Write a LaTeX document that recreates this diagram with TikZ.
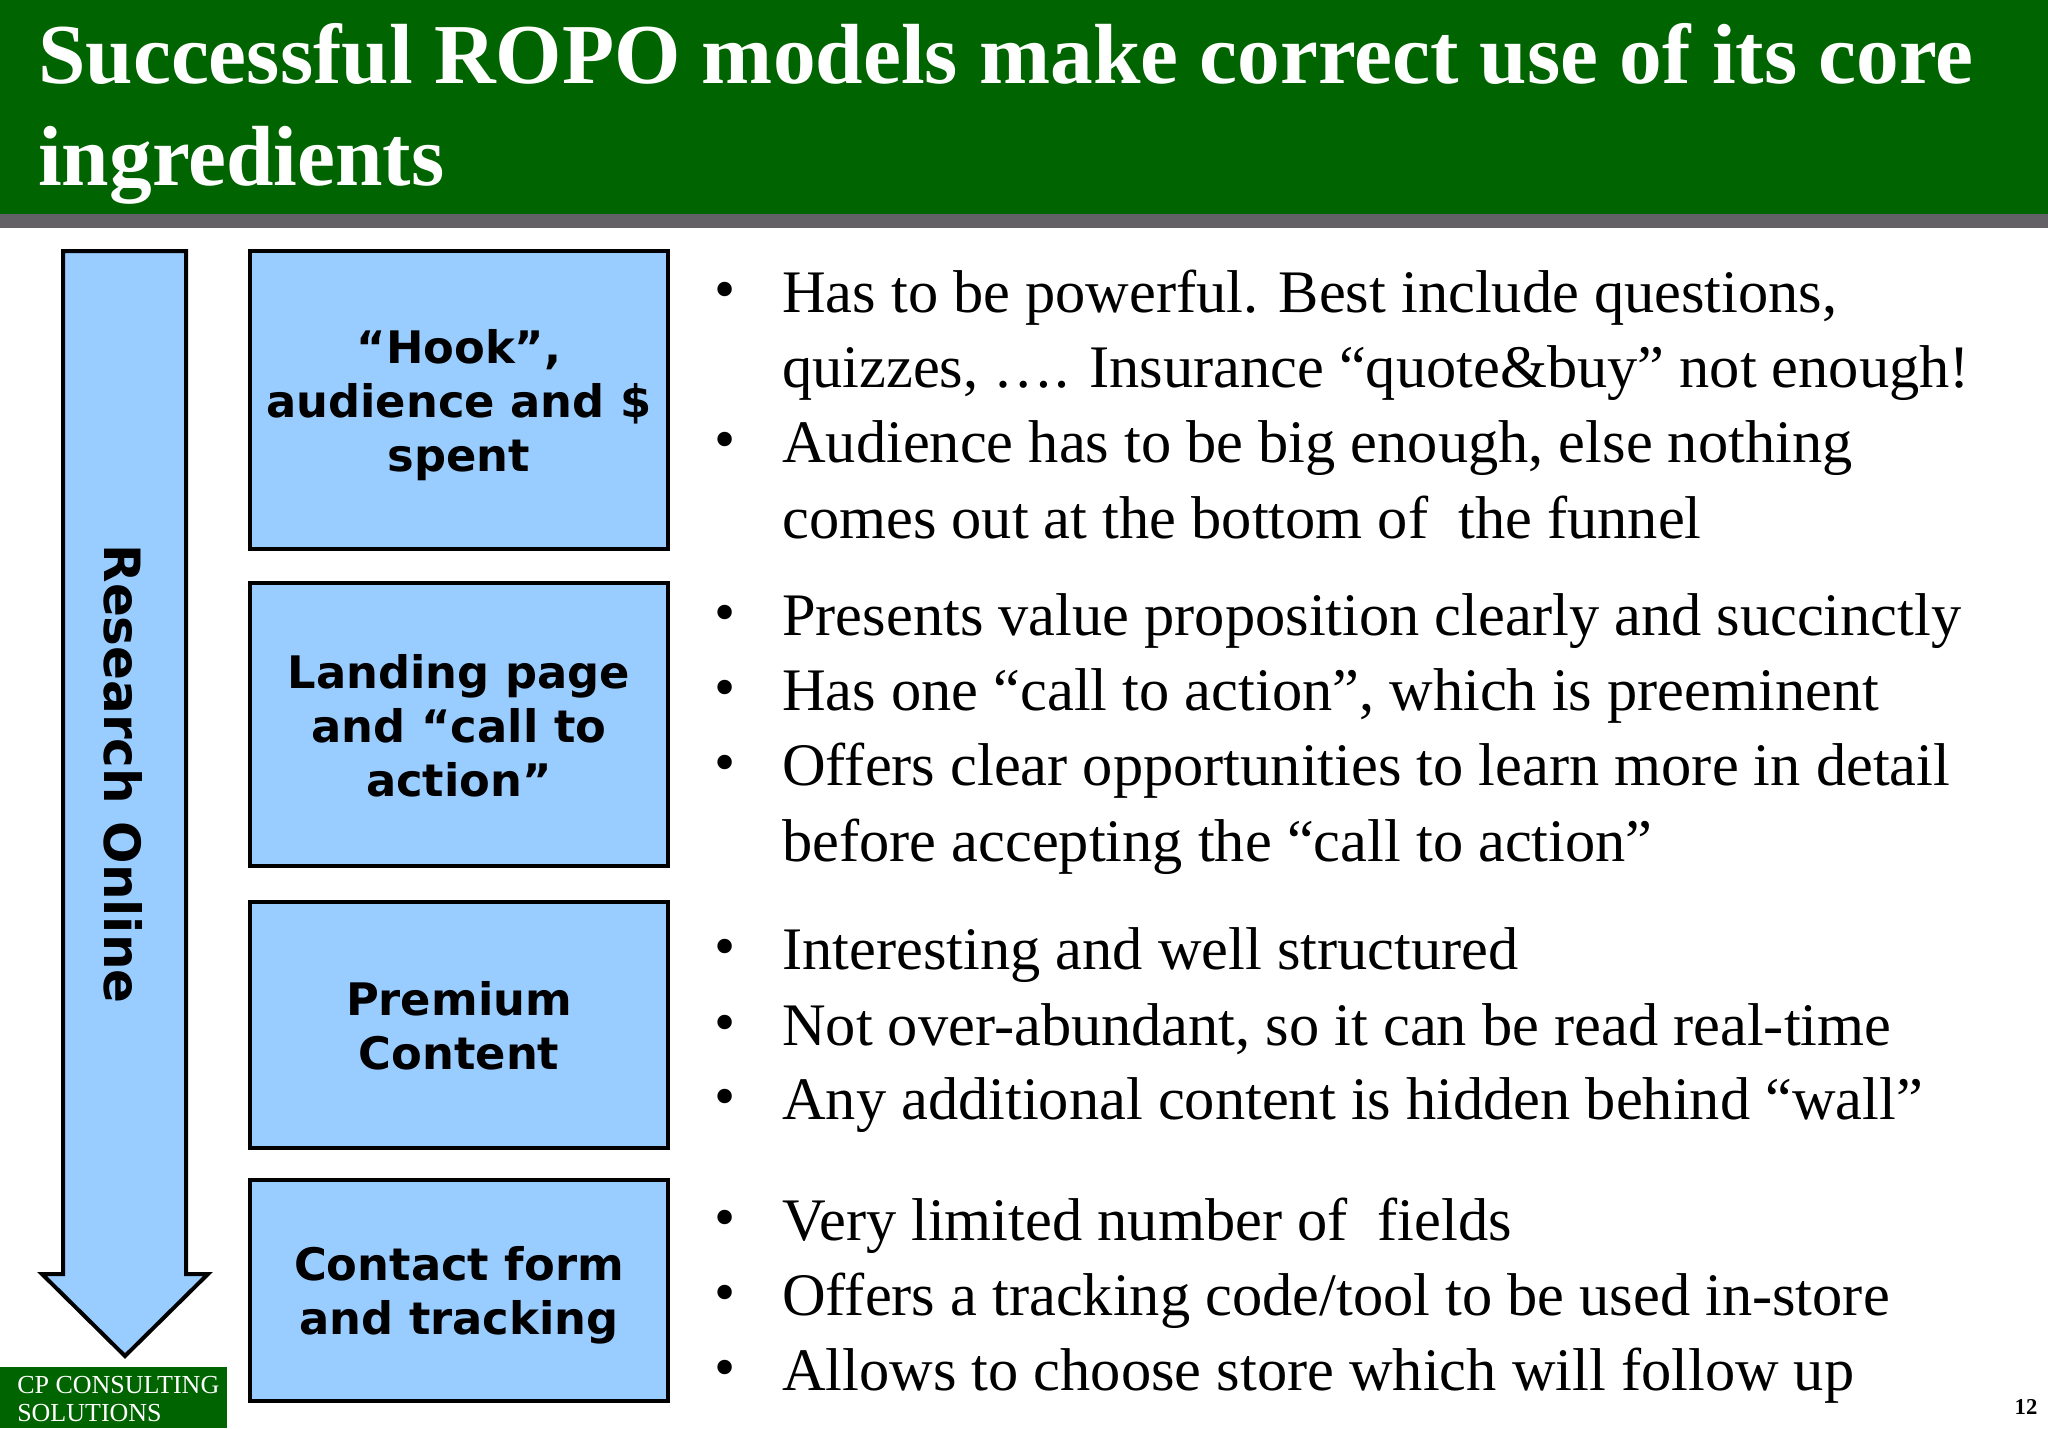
\documentclass[tikz,border=0pt]{standalone}
\usepackage{fontspec}
\setmainfont{Liberation Serif}
\newfontfamily\boxfont{DejaVu Sans}
\usepackage{xcolor}
\usetikzlibrary{positioning}
\definecolor{headgreen}{HTML}{006400}
\definecolor{headgrey}{HTML}{636066}
\definecolor{boxblue}{HTML}{99CCFF}
\newcommand{\bodysize}{\fontsize{45.3}{56}\selectfont}

\begin{document}
\begin{tikzpicture}[
    x=0.75pt, y=-0.75pt,
    stepbox/.style={draw, line width=3pt, fill=boxblue, align=center, inner sep=0pt, minimum width=313pt, font=\boxfont\fontsize{33.6}{40.6}\selectfont\bfseries},
    titleline/.style={anchor=base west, inner sep=0pt, text=white, font=\fontsize{64}{70}\selectfont\bfseries},
    bodyline/.style={anchor=base west, inner sep=0pt, font=\bodysize},
    bulletmark/.style={anchor=base, inner sep=0pt, yshift=2.25pt, font=\bodysize},
    footline/.style={anchor=base west, inner sep=0pt, text=white, font=\fontsize{19.5}{21}\selectfont}
]
    \useasboundingbox (0,0) rectangle (2048,1428);
    \fill[white] (0,0) rectangle (2048,1428);

    % header band
    \fill[headgreen] (0,0) rectangle (2048,214);
    \fill[headgrey] (0,214) rectangle (2048,228);
    \node[titleline] (title1) at (38,83) {Successful ROPO models make correct use of its core};
    \node[titleline] (title2) at (38,185) {ingredients};

    % long arrow on the left
    \draw[line width=3pt, fill=boxblue, miter limit=10] (63,251) -- (186,251) -- (186,1274) -- (208,1274) -- (125,1356) -- (42,1274) -- (63,1274) -- cycle;
    \node[rotate=-90, inner sep=0pt, font=\boxfont\fontsize{37.5}{40}\selectfont\bfseries] (research) at (123,774) {Research Online};

    % the four boxes
    \node[stepbox, minimum height=224pt] (hook) at (459,400) {\rule{0pt}{33pt}“Hook”,\\audience and \$\\spent};
    \node[stepbox, minimum height=212.5pt] (landing) at (459,724.5) {\rule{0pt}{27pt}Landing page\\and “call to\\action”};
    \node[stepbox, minimum height=184.5pt] (premium) at (459,1025) {\rule{0pt}{27pt}Premium\\Content};
    \node[stepbox, minimum height=166pt] (contact) at (459,1290.7) {\rule{0pt}{33pt}Contact form\\and tracking};

    % first group
    \node[bulletmark] (b1) at (725,312) {•};
    \node[bodyline] (t1) at (782,312) {Has to be powerful. Best include questions,};
    \node[bodyline] (t2) at (782,387) {quizzes, …. Insurance “quote\&buy” not enough!};
    \node[bulletmark] (b2) at (725,462) {•};
    \node[bodyline] (t3) at (782,462) {Audience has to be big enough, else nothing};
    \node[bodyline] (t4) at (782,538) {comes out at the bottom of\ \ the funnel};

    % second group
    \node[bulletmark] (b3) at (725,635) {•};
    \node[bodyline] (t5) at (782,635) {Presents value proposition clearly and succinctly};
    \node[bulletmark] (b4) at (725,710) {•};
    \node[bodyline] (t6) at (782,710) {Has one “call to action”, which is preeminent};
    \node[bulletmark] (b5) at (725,785) {•};
    \node[bodyline] (t7) at (782,785) {Offers clear opportunities to learn more in detail};
    \node[bodyline] (t8) at (782,861) {before accepting the “call to action”};

    % third group
    \node[bulletmark] (b6) at (725,969) {•};
    \node[bodyline] (t9) at (782,969) {Interesting and well structured};
    \node[bulletmark] (b7) at (725,1045) {•};
    \node[bodyline] (t10) at (782,1045) {Not over-abundant, so it can be read real-time};
    \node[bulletmark] (b8) at (725,1119) {•};
    \node[bodyline] (t11) at (782,1119) {Any additional content is hidden behind “wall”};

    % fourth group
    \node[bulletmark] (b9) at (725,1240) {•};
    \node[bodyline] (t12) at (782,1240) {Very limited number of\ \ fields};
    \node[bulletmark] (b10) at (725,1315) {•};
    \node[bodyline] (t13) at (782,1315) {Offers a tracking code/tool to be used in-store};
    \node[bulletmark] (b11) at (725,1390) {•};
    \node[bodyline] (t14) at (782,1390) {Allows to choose store which will follow up};

    % footer
    \fill[headgreen] (0,1367) rectangle (227,1428);
    \node[footline] (cons) at (17,1393) {CP CONSULTING};
    \node[footline] (sol) at (17,1421) {SOLUTIONS};
    \node[anchor=base, inner sep=0pt, font=\fontsize{17}{18}\selectfont\bfseries] (pagenum) at (2026,1414) {12};
\end{tikzpicture}
\end{document}
